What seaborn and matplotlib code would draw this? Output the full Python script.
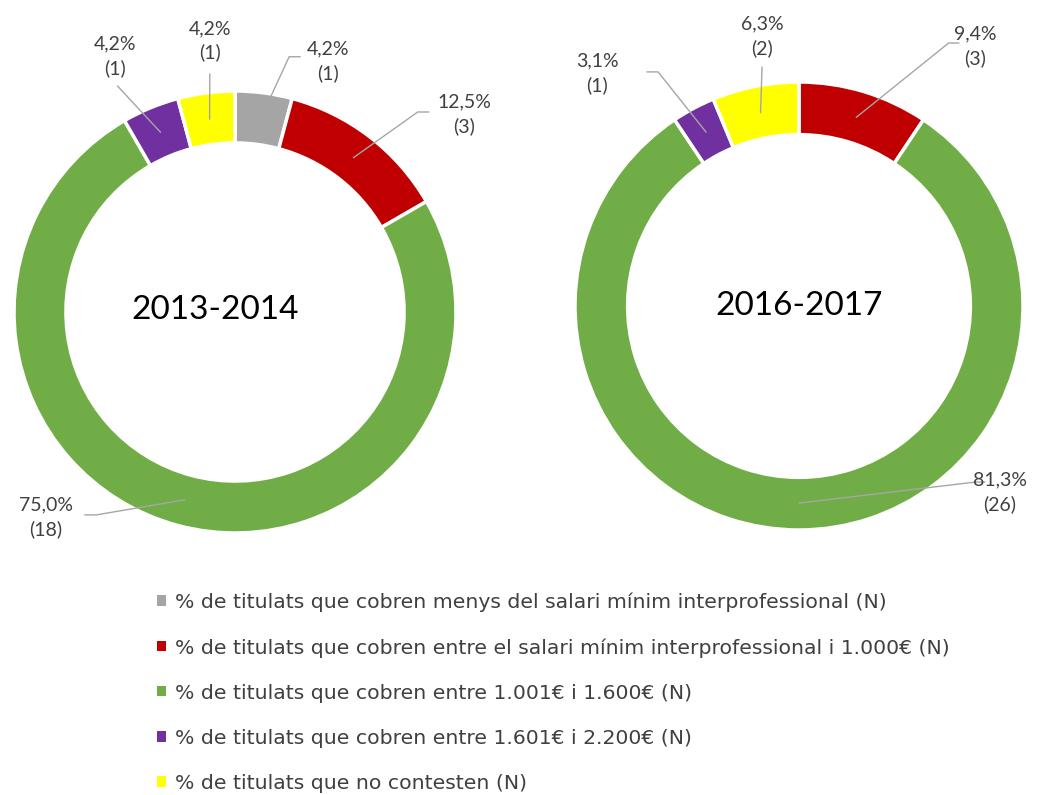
import matplotlib
matplotlib.use("Agg")
import matplotlib.pyplot as plt
from matplotlib.patches import Patch
import numpy as np
import seaborn as sns

# --- data ---
categories = [
    "% de titulats que cobren menys del salari mínim interprofessional (N)",
    "% de titulats que cobren entre el salari mínim interprofessional i 1.000€ (N)",
    "% de titulats que cobren entre 1.001€ i 1.600€ (N)",
    "% de titulats que cobren entre 1.601€ i 2.200€ (N)",
    "% de titulats que no contesten (N)",
]
colors = ["#A5A5A5", "#C00000", "#70AD47", "#7030A0", "#FFFF00"]

years = ["2013-2014", "2016-2017"]
counts_1314 = [1, 3, 18, 1, 1]
pct_1314 = [4.2, 12.5, 75.0, 4.2, 4.2]
counts_1617 = [0, 3, 26, 1, 2]
pct_1617 = [0.0, 9.4, 81.3, 3.1, 6.3]

# --- layout (pixels of the 1051x795 canvas, donut units for labels) ---
W, H = 1051, 795
donuts = [(235, 312, 221), (799, 306, 224)]  # cx, cy, R
title_offset = [(-0.09, 0.01), (0.0, 0.0)]
# per category: (text x, text y, leader end x, leader end y, elbow x or None)
label_pos_1314 = [
    (0.423, 1.136, 0.245, 1.155, 0.295),
    (1.036, 0.895, 0.827, 0.905, 0.877),
    (-0.855, -0.927, -0.627, -0.918, -0.68),
    (-0.541, 1.159, -0.532, 1.023, None),
    (-0.114, 1.227, -0.114, 1.077, None),
]
label_pos_1617 = [
    None,
    (0.786, 1.161, 0.668, 1.174, 0.714),
    (0.897, -0.830, 0.786, -0.786, 0.83),
    (-0.902, 1.040, -0.629, 1.045, -0.679),
    (-0.165, 1.205, -0.165, 1.067, None),
]

sns.set_theme(style="white")
plt.rcParams["font.family"] = ["Lato", "DejaVu Sans"]
text_col = "#404040"
line_col = "#A6A6A6"

fig = plt.figure(figsize=(W / 100, H / 100), dpi=100)


def draw_donut(box, counts, pcts, label_pos, year, toff):
    cx, cy, R = box
    ax = fig.add_axes([(cx - R) / W, 1 - (cy + R) / H, 2 * R / W, 2 * R / H])
    idx = [i for i, c in enumerate(counts) if c > 0]
    wedges, _ = ax.pie([counts[i] for i in idx], colors=[colors[i] for i in idx],
                       startangle=90, counterclock=False, radius=1.0,
                       wedgeprops=dict(width=0.235, edgecolor="white", linewidth=2.5))
    ax.set_xlim(-1, 1)
    ax.set_ylim(-1, 1)
    ax.set_aspect("equal")
    ax.axis("off")
    for w, i in zip(wedges, idx):
        tx, ty, ex, ey, hx = label_pos[i]
        mid = np.deg2rad((w.theta1 + w.theta2) / 2)
        xs = [0.88 * np.cos(mid), ex]
        ys = [0.88 * np.sin(mid), ey]
        if hx is not None:
            xs.append(hx)
            ys.append(ey)
        ax.plot(xs, ys, color=line_col, lw=1, clip_on=False)
        lab = f"{pcts[i]:.1f}".replace(".", ",") + f"%\n({counts[i]})"
        ax.text(tx, ty, lab, ha="center", va="center", fontsize=14,
                color=text_col, linespacing=1.45)
    ax.text(toff[0], toff[1], year, ha="center", va="center", fontsize=24,
            color="black")


draw_donut(donuts[0], counts_1314, pct_1314, label_pos_1314, years[0], title_offset[0])
draw_donut(donuts[1], counts_1617, pct_1617, label_pos_1617, years[1], title_offset[1])

handles = [Patch(facecolor=c, edgecolor="none") for c in colors]
fig.legend(handles, categories, loc="upper left",
           bbox_to_anchor=(139 / W, 1 - 574 / H), frameon=False,
           prop={"family": "DejaVu Sans", "size": 14.7},
           handlelength=0.4, handleheight=0.4,
           handletextpad=0.45, labelspacing=1.28, labelcolor=text_col)

fig.savefig("out.png", dpi=100, facecolor="white")
